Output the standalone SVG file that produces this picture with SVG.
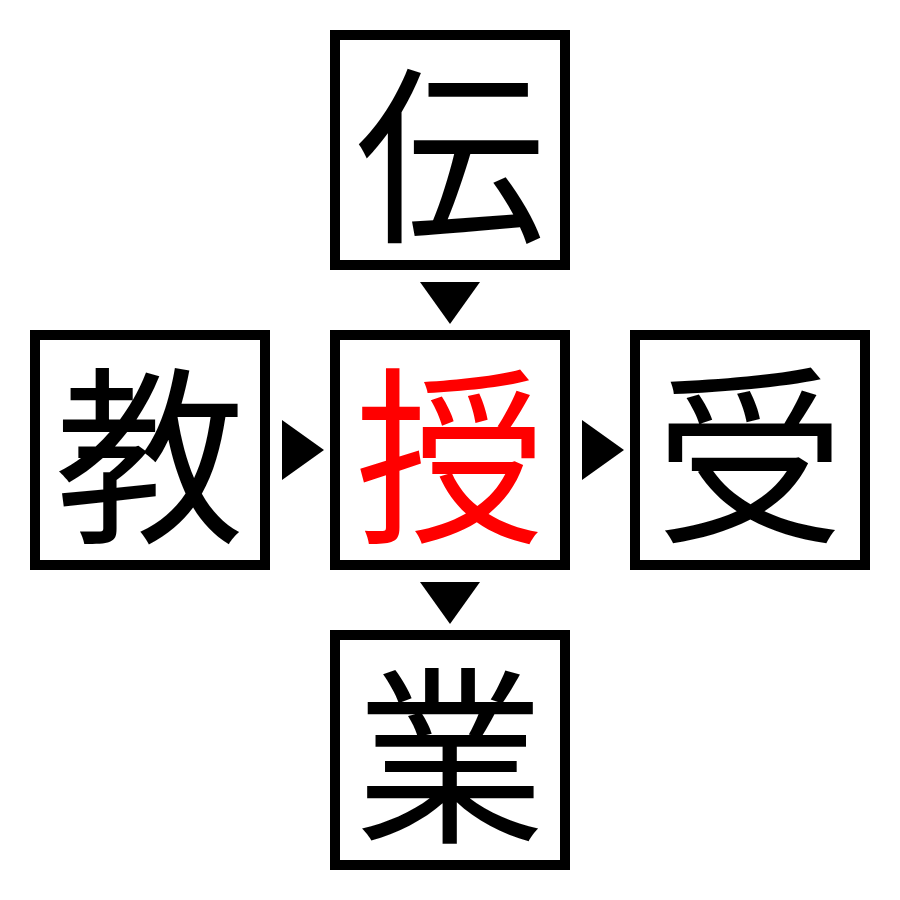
<svg xmlns="http://www.w3.org/2000/svg" width="900" height="900" viewBox="0 0 900 900">
<style>
.box{fill:#fff;stroke:#000;stroke-width:10}
.ch{font-family:"Noto Sans CJK JP","Noto Sans CJK SC",sans-serif;font-size:190px;text-anchor:middle;dominant-baseline:central;fill:#000}
.red{fill:#f00}
.arr{fill:#000}
</style>
<rect width="900" height="900" fill="#fff"/>
<g id="node-den"><rect class="box" x="335" y="35" width="230" height="230"/><text class="ch" x="450" y="145">伝</text></g>
<g id="node-kyou"><rect class="box" x="35" y="335" width="230" height="230"/><text class="ch" x="150" y="445">教</text></g>
<g id="node-ju"><rect class="box" x="335" y="335" width="230" height="230"/><text class="ch red" x="450" y="445">授</text></g>
<g id="node-uke"><rect class="box" x="635" y="335" width="230" height="230"/><text class="ch" x="750" y="445">受</text></g>
<g id="node-gyou"><rect class="box" x="335" y="635" width="230" height="230"/><text class="ch" x="450" y="745">業</text></g>
<g id="connectors">
<polygon class="arr" points="420,282 480,282 450,324"/>
<polygon class="arr" points="420,582 480,582 450,624"/>
<polygon class="arr" points="282,420 282,480 324,450"/>
<polygon class="arr" points="582,420 582,480 624,450"/>
</g>
</svg>
